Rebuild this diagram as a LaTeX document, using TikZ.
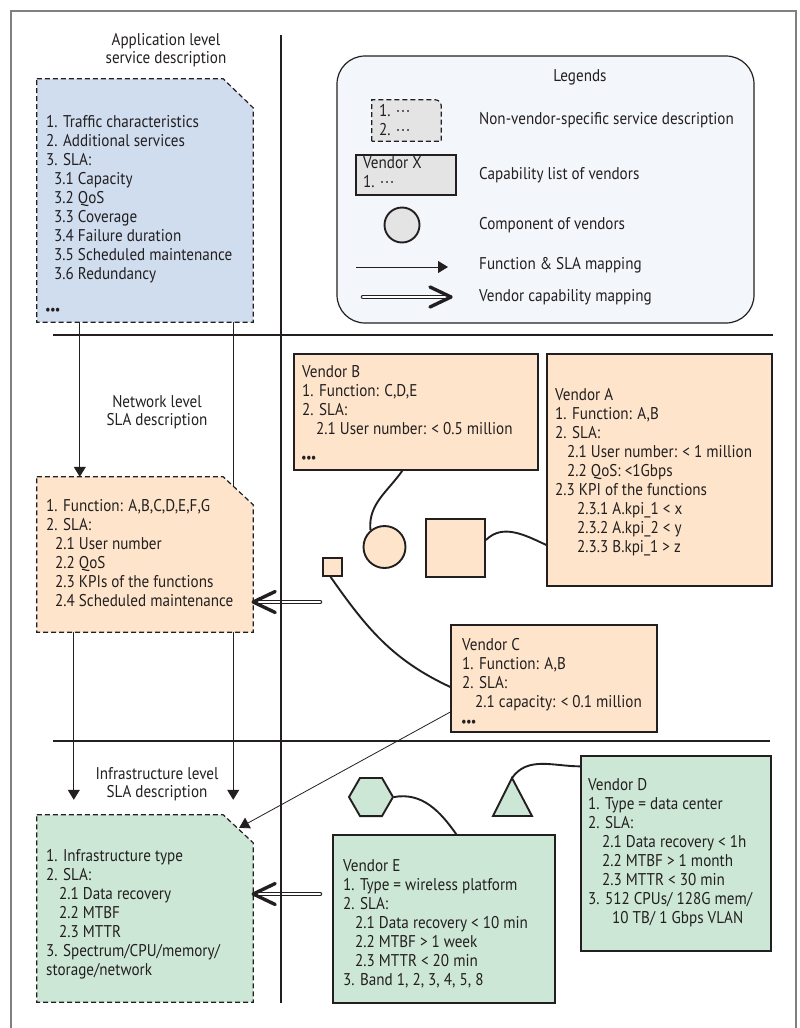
\documentclass[tikz,border=0pt]{standalone}
\usepackage{fontspec}
\setmainfont{PT Sans}[FakeStretch=0.89]
\usetikzlibrary{arrows.meta,calc,shapes.geometric}
\pgfdeclarelayer{lines}
\pgfsetlayers{lines,main}

\definecolor{appblue}{HTML}{CFDDEF}
\definecolor{peach}{HTML}{FDE4CA}
\definecolor{mint}{HTML}{CCE7D5}
\definecolor{legendbg}{HTML}{F3F6FB}
\definecolor{legendgray}{HTML}{E4E4E4}
\definecolor{framegray}{HTML}{808080}
\definecolor{ink}{HTML}{231F20}

\newcommand{\mdots}{\textperiodcentered\kern1pt\textperiodcentered\kern1pt\textperiodcentered}
\newcommand{\bdots}{{\fontsize{14}{14}\selectfont\textbullet\kern-0.8pt\textbullet\kern-0.8pt\textbullet}}

\begin{document}
\begin{tikzpicture}[x=1pt,y=-1pt,
  every node/.style={font=\fontsize{17}{19}\selectfont, text=ink},
  txt/.style={anchor=north west, inner sep=0pt, align=left},
  ctr/.style={inner sep=0pt, align=center, font=\fontsize{17}{18}\selectfont},
  lbl/.style={anchor=west, inner sep=0pt, text height=12pt, text depth=4pt},
  area/.style={draw=none, fill=none, inner sep=0pt, rectangle},
  docshape/.style={draw=ink, line width=1.2pt, dash pattern=on 5pt off 3pt},
  vendorbox/.style={draw=ink, line width=1.3pt, rectangle, inner sep=0pt},
  divider/.style={draw=ink, line width=2.3pt},
  mapping/.style={draw=ink, line width=1pt, -{Triangle[length=10pt,width=12pt]}},
  link/.style={draw=ink, line width=1.9pt},
  comp/.style={draw=ink, line width=1.9pt, inner sep=0pt},
  capshaft/.style={draw=ink, line width=0.9pt, double=white, double distance=2.8pt, line cap=round},
  caphead/.style={draw=ink, line width=3.4pt, line cap=round, line join=round},
]
\useasboundingbox (0,0) rectangle (800,1028);

% outer frame
\draw[framegray, line width=1.3pt] (11,1028) -- (11,11) -- (796,11) -- (796,1028);

% ---------------- legend ----------------
\node[draw=ink, line width=1.2pt, fill=legendbg, rounded corners=28pt,
      minimum width=417pt, minimum height=267pt, inner sep=0pt] (legend) at (545.5,189.5) {};
\node[inner sep=0pt] (legendtitle) at (580,77) {Legends};

\node[area, minimum width=69pt, minimum height=41pt] (ldoc) at (406.5,120.5) {};
\path[docshape, fill=legendgray] (ldoc.south west) -- (ldoc.north west)
   -- ([xshift=-6pt]ldoc.north east) arc[start angle=90, end angle=0, radius=6pt]
   -- (ldoc.south east) -- cycle;
\node[txt] (ldoctext) at (379,104) {1. \mdots\\2. \mdots};
\node[lbl] (ldoclbl) at (479,120) {Non-vendor-specific service description};

\node[vendorbox, fill=legendgray, line width=1.2pt, minimum width=100pt, minimum height=40pt] (lvx) at (406,175) {};
\node[txt] (lvxtext) at (363,156) {Vendor X\\1. \mdots};
\node[lbl] (lvxlbl) at (479,175) {Capability list of vendors};

\node[comp, circle, fill=legendgray, minimum size=35pt] (lcomp) at (402,225) {};
\node[lbl] (lcomplbl) at (479,225) {Component of vendors};

\coordinate (lmapA) at (356,267);
\coordinate (lmapB) at (448,267);
\draw[mapping] (lmapA) -- (lmapB);
\node[lbl] (lmaplbl) at (479,265) {Function \& SLA mapping};

\coordinate (lcapA) at (363,297);
\coordinate (lcapB) at (451,297);
\draw[capshaft] (lcapA) -- ([xshift=-4pt]lcapB);
\draw[caphead] ([xshift=-21pt,yshift=10pt]lcapB) -- (lcapB) -- ([xshift=-21pt,yshift=-10pt]lcapB);
\node[lbl] (lcaplbl) at (479,297) {Vendor capability mapping};

% ---------------- service descriptions ----------------
\node[ctr] (apptitle) at (166,50) {Application level\\service description};
\node[ctr] (nettitle) at (157,412) {Network level\\SLA description};
\node[ctr] (infratitle) at (157,784) {Infrastructure level\\SLA description};

\node[area, minimum width=216pt, minimum height=243pt] (app) at (145,200.5) {};
\node[area, minimum width=216pt, minimum height=155pt] (net) at (145,554.5) {};
\node[area, minimum width=216pt, minimum height=187pt] (infra) at (145,908.5) {};

\path[docshape, fill=appblue] (app.north west) -- ([xshift=-30pt]app.north east)
   -- ([yshift=-29pt]app.north east) -- (app.south east) -- (app.south west) -- cycle;
\path[docshape, fill=peach] (net.north west) -- ([xshift=-30pt]net.north east)
   -- ([yshift=-28pt]net.north east) -- (net.south east) -- (net.south west) -- cycle;
\path[docshape, fill=mint] (infra.north west) -- ([xshift=-30pt]infra.north east)
   -- ([yshift=-28pt]infra.north east) -- (infra.south east) -- (infra.south west) -- cycle;

\node[txt] (apptext) at (46,115) {1. Traffic characteristics\\
2. Additional services\\
3. SLA:\\
\hspace*{8pt}3.1 Capacity\\
\hspace*{8pt}3.2 QoS\\
\hspace*{8pt}3.3 Coverage\\
\hspace*{8pt}3.4 Failure duration\\
\hspace*{8pt}3.5 Scheduled maintenance\\
\hspace*{8pt}3.6 Redundancy};
\node[anchor=west, inner sep=0pt] (appdots) at (45,311) {\bdots};

\node[txt] (nettext) at (46,499) {1. Function: A,B,C,D,E,F,G\\
2. SLA:\\
\hspace*{9pt}2.1 User number\\
\hspace*{9pt}2.2 QoS\\
\hspace*{9pt}2.3 KPIs of the functions\\
\hspace*{9pt}2.4 Scheduled maintenance};

\node[txt] (infratext) at (46,849) {1. Infrastructure type\\
2. SLA:\\
\hspace*{13pt}2.1 Data recovery\\
\hspace*{13pt}2.2 MTBF\\
\hspace*{13pt}2.3 MTTR\\
3. Spectrum/CPU/memory/\\
storage/network};

% ---------------- vendors ----------------
\node[vendorbox, fill=peach, minimum width=244pt, minimum height=116pt] (vB) at (416,412) {};
\node[txt] (vBtext) at (302,365) {Vendor B\\
1. Function: C,D,E\\
2. SLA:\\
\hspace*{14pt}2.1 User number: < 0.5 million};
\node[anchor=west, inner sep=0pt] (vBdots) at (301,459) {\bdots};

\node[vendorbox, fill=peach, minimum width=225pt, minimum height=232pt] (vA) at (659.5,470) {};
\node[txt] (vAtext) at (555,388) {Vendor A\\
1. Function: A,B\\
2. SLA:\\
\hspace*{12pt}2.1 User number: < 1 million\\
\hspace*{12pt}2.2 QoS: <1Gbps\\
2.3 KPI of the functions\\
\hspace*{22pt}2.3.1 A.kpi\_1 < x\\
\hspace*{22pt}2.3.2 A.kpi\_2 < y\\
\hspace*{22pt}2.3.3 B.kpi\_1 > z};

\node[vendorbox, fill=peach, minimum width=206pt, minimum height=107pt] (vC) at (554,678.5) {};
\node[txt] (vCtext) at (462,638) {Vendor C\\
1. Function: A,B\\
2. SLA:\\
\hspace*{13pt}2.1 capacity: < 0.1 million};
\node[anchor=west, inner sep=0pt] (vCdots) at (461,723) {\bdots};

\node[vendorbox, fill=mint, minimum width=222pt, minimum height=168pt] (vE) at (444,919) {};
\node[txt] (vEtext) at (343,859) {Vendor E\\
1. Type = wireless platform\\
2. SLA:\\
\hspace*{12pt}2.1 Data recovery < 10 min\\
\hspace*{12pt}2.2 MTBF > 1 week\\
\hspace*{12pt}2.3 MTTR < 20 min\\
3. Band 1, 2, 3, 4, 5, 8};

\node[vendorbox, fill=mint, minimum width=190pt, minimum height=195pt] (vD) at (676,853.5) {};
\node[txt] (vDtext) at (588,778) {Vendor D\\
1. Type = data center\\
2. SLA:\\
\hspace*{14pt}2.1 Data recovery < 1h\\
\hspace*{14pt}2.2 MTBF > 1 month\\
\hspace*{14pt}2.3 MTTR < 30 min\\
3. 512 CPUs/ 128G mem/\\
\hspace*{24pt}10 TB/ 1 Gbps VLAN};

% ---------------- vendor components ----------------
\node[comp, circle, fill=peach, minimum size=42pt] (circ) at (384.5,547) {};
\node[comp, rectangle, fill=peach, minimum width=59pt, minimum height=58pt] (sqA) at (455.5,548) {};
\node[comp, rectangle, fill=peach, line width=1.6pt, minimum width=19pt, minimum height=18pt] (sqC) at (332.5,567) {};
\node[comp, regular polygon, regular polygon sides=6, fill=mint, minimum size=44pt] (hex) at (371,797) {};
\coordinate (triapex) at (512,778);
\draw[comp, fill=mint, line join=miter] (triapex) -- (532,816) -- (493,816) -- cycle;

% ---------------- connectors ----------------
\begin{pgfonlayer}{lines}
  \draw[mapping] ([xshift=43pt]app.south west) -- ([xshift=43pt]app.south west |- net.north);
  \draw[mapping] ([xshift=-20pt]app.south east) -- ([xshift=-20pt,yshift=15pt]app.south east |- infra.north);
  \draw[mapping] ([xshift=37pt]net.south west) -- ([xshift=37pt,yshift=15pt]net.south west |- infra.north);

  \draw[link] ([xshift=109pt]vB.south west) to[out=-125,in=95] (circ.130);
  \draw[link] ([yshift=8pt]sqA.east) to[out=45,in=155] ([yshift=-75pt]vA.west);
  \draw[link] ([xshift=-2pt]sqC.south) to[out=-55,in=155] ([yshift=-8.5pt]vC.west);
  \draw[link] (hex.east) to[out=10,in=125] ([xshift=124pt]vE.north west);
  \draw[link] (triapex) to[out=55,in=180] ([yshift=-11pt]vD.north west);
\end{pgfonlayer}

\draw[mapping, line width=0.8pt] ([yshift=-33.5pt]vC.west) -- ([xshift=-14pt,yshift=-13pt]infra.north east);

% vendor capability mappings
\coordinate (capN) at (320,602);
\coordinate (capI) at (320,894);
\draw[capshaft] (capN) -- ([xshift=5pt]net.east |- capN);
\draw[caphead] ([xshift=22pt,yshift=10.5pt]net.east |- capN) -- (net.east |- capN) -- ([xshift=22pt,yshift=-10.5pt]net.east |- capN);
\draw[capshaft] (capI) -- ([xshift=5pt]infra.east |- capI);
\draw[caphead] ([xshift=22pt,yshift=10.5pt]infra.east |- capI) -- (infra.east |- capI) -- ([xshift=22pt,yshift=-10.5pt]infra.east |- capI);

% level dividers
\draw[divider] (281,35) -- (281,1003);
\draw[divider] (53,335) -- (773,335);
\draw[divider] (53,741) -- (770,741);
\end{tikzpicture}
\end{document}
